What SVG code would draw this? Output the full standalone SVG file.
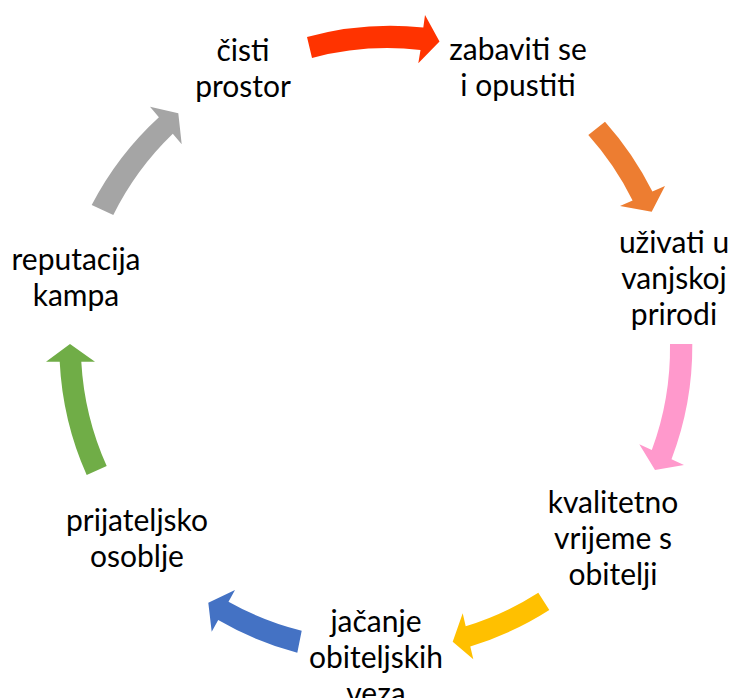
<svg xmlns="http://www.w3.org/2000/svg" width="730" height="698" viewBox="0 0 730 698">
<style>
.lbl{font-family:Lato,"Open Sans","Liberation Sans",sans-serif;font-size:30px;fill:#000;text-anchor:middle}
</style>
<rect width="730" height="698" fill="#fff"/>
<g id="connectors">
<path id="a1" fill="#FF3300" d="M307,37 A316.5,316.5 0 0 1 423.3,27.5 L425,15 L439.5,41.5 L418.3,63.3 L420.5,50 A294.5,294.5 0 0 0 312,58 Z"/>
<path id="a2" fill="#ED7D31" d="M605,121.7 A316.5,316.5 0 0 1 652.4,191.6 L665,186 L651.7,211.7 L620,206 L632.6,200.4 A294.5,294.5 0 0 0 588.3,135 Z"/>
<path id="a3" fill="#FF99CC" d="M692.3,344 A316.5,316.5 0 0 1 671.5,459.2 L684,465 L655,470 L639.3,444.3 L651.8,450.1 A294.5,294.5 0 0 0 670,344 Z"/>
<path id="a4" fill="#FFC000" d="M549.3,610 A316.5,316.5 0 0 1 470.3,646.4 L473.3,659.3 L452.7,641.7 L462.7,613.3 L465.7,626.2 A294.5,294.5 0 0 0 538.3,592.7 Z"/>
<path id="a5" fill="#4472C4" d="M297.3,652.7 A316.5,316.5 0 0 1 218.2,620 L211.7,631.7 L208.3,602.7 L235,590 L228.5,601.7 A294.5,294.5 0 0 0 301.7,630.7 Z"/>
<path id="a6" fill="#70AD47" d="M86.7,475 A316.5,316.5 0 0 1 59.7,361.7 L46,361.7 L70,344 L95,361.7 L81.3,361.7 A294.5,294.5 0 0 0 106.7,466 Z"/>
<path id="a7" fill="#A5A5A5" d="M91.7,205 A316.5,316.5 0 0 1 158.9,117.2 L150,106.7 L178.3,113.3 L181.7,144.3 L172.8,133.8 A294.5,294.5 0 0 0 113.3,215 Z"/>
</g>
<g id="n1"><text class="lbl" x="243" y="61">čisti</text><text class="lbl" x="243" y="97">prostor</text></g>
<g id="n2"><text class="lbl" x="518" y="60">zabaviti se</text><text class="lbl" x="518" y="96">i opustiti</text></g>
<g id="n3"><text class="lbl" x="674" y="253">uživati u</text><text class="lbl" x="674" y="289">vanjskoj</text><text class="lbl" x="674" y="325">prirodi</text></g>
<g id="n4"><text class="lbl" x="613" y="513">kvalitetno</text><text class="lbl" x="613" y="549">vrijeme s</text><text class="lbl" x="613" y="585">obitelji</text></g>
<g id="n5"><text class="lbl" x="376" y="632">jačanje</text><text class="lbl" x="376" y="668">obiteljskih</text><text class="lbl" x="376" y="704">veza</text></g>
<g id="n6"><text class="lbl" x="137" y="531">prijateljsko</text><text class="lbl" x="137" y="567">osoblje</text></g>
<g id="n7"><text class="lbl" x="76" y="270">reputacija</text><text class="lbl" x="76" y="306">kampa</text></g>
</svg>
